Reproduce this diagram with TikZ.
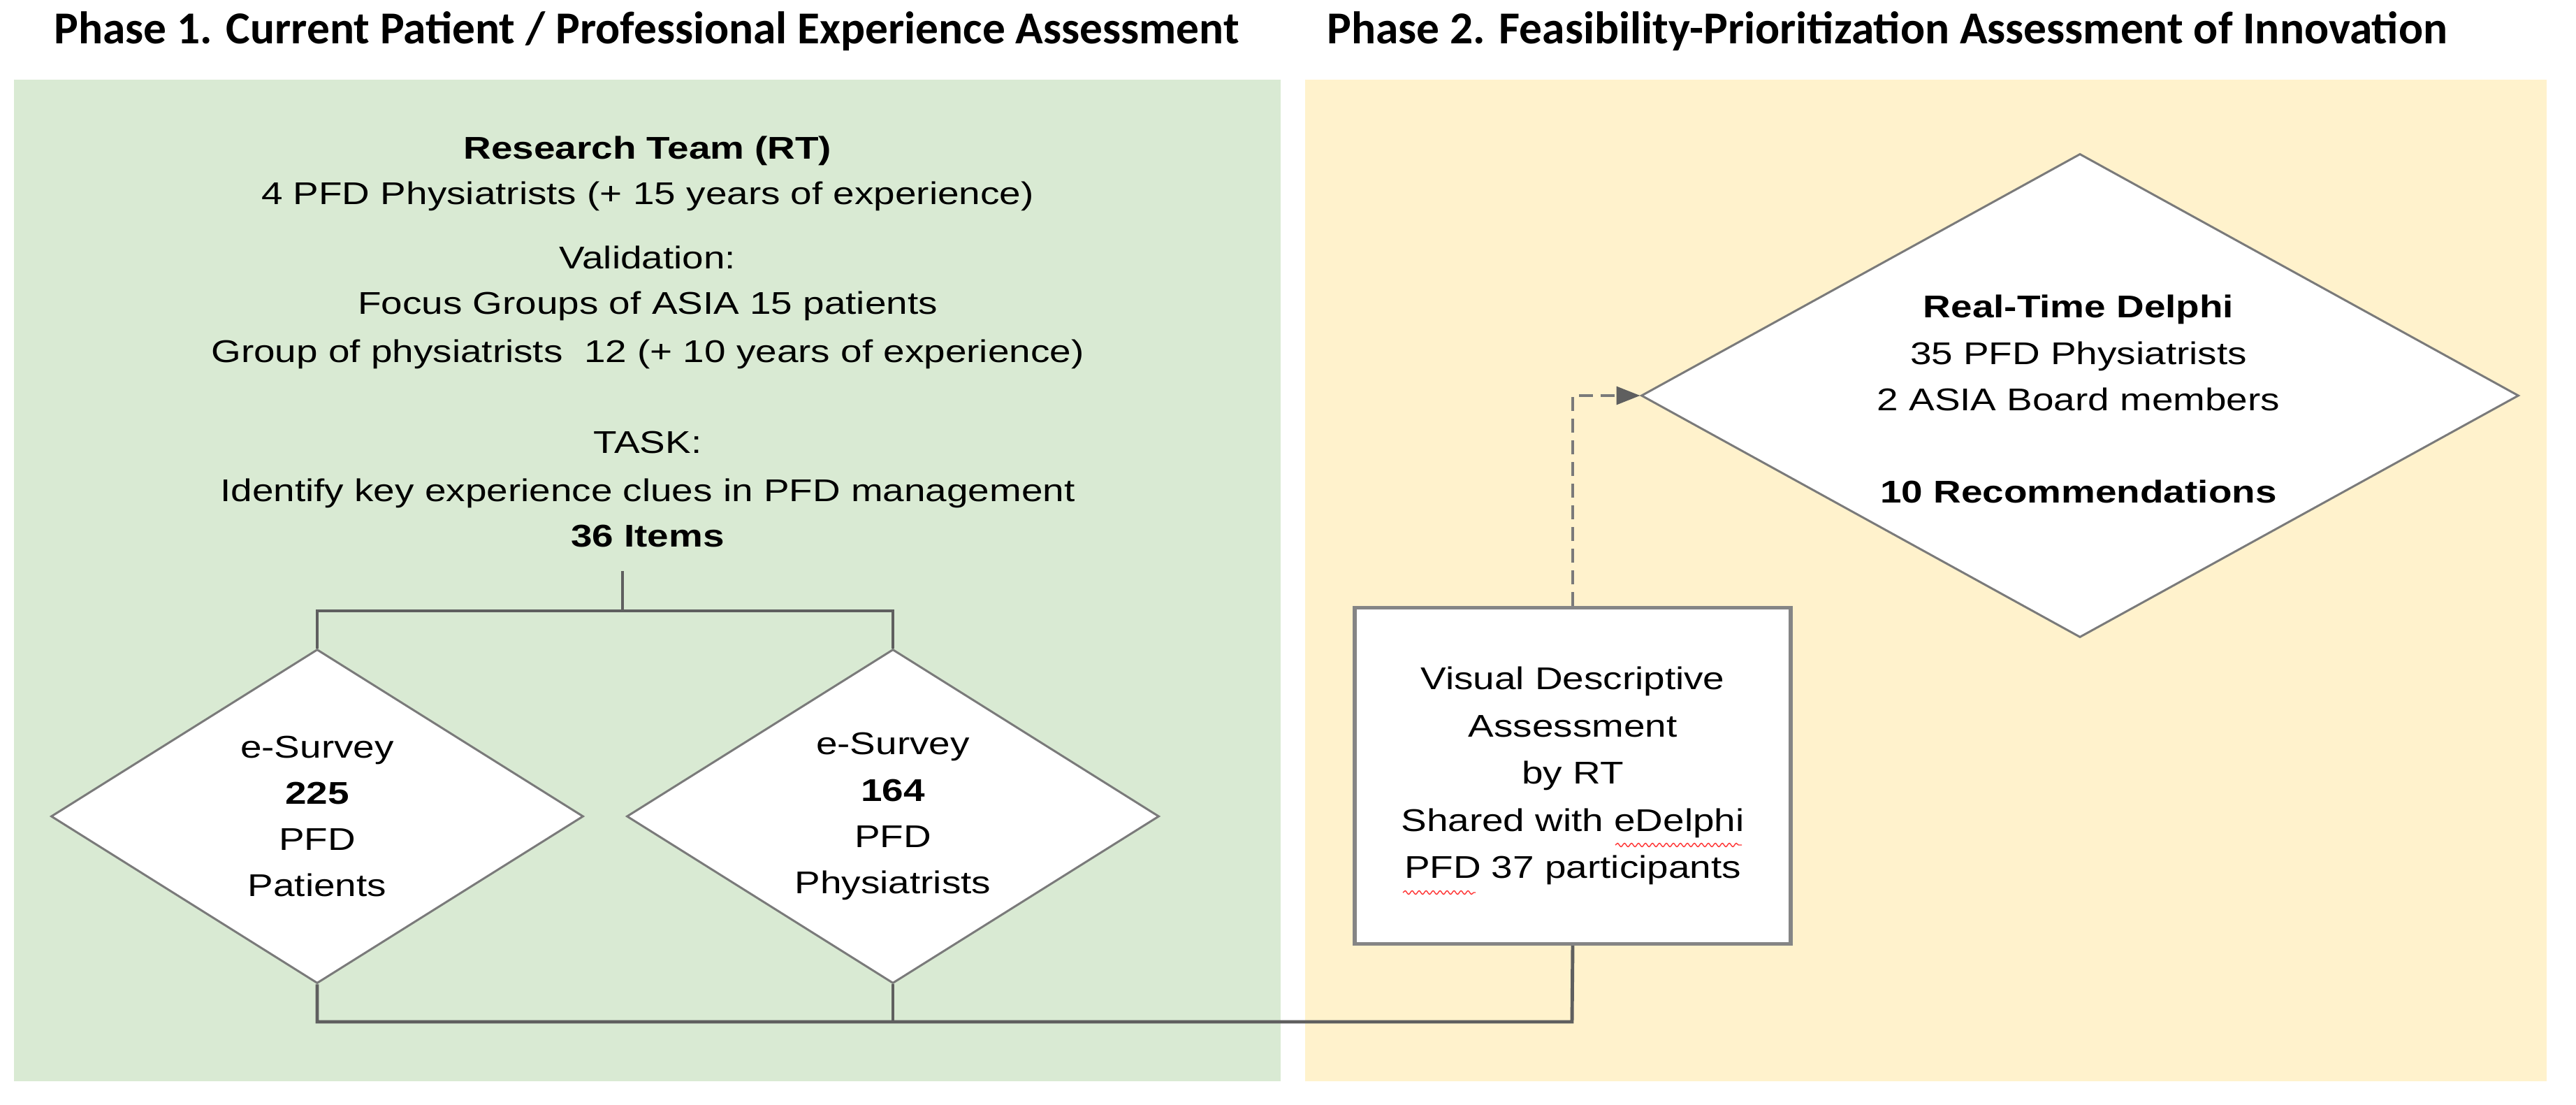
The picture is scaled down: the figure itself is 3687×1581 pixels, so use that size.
\documentclass[tikz,border=0pt]{standalone}
\usepackage{fontspec}
\setmainfont{Liberation Sans}[FakeStretch=1.22]
\newfontfamily\titlefont{Carlito}
\usetikzlibrary{shapes.geometric,arrows.meta,decorations.pathmorphing}
\definecolor{pgreen}{HTML}{D9EAD3}
\definecolor{pyellow}{HTML}{FFF2CC}
\definecolor{conngray}{HTML}{5F5F5F}
\definecolor{outgray}{HTML}{7A7A7A}
\definecolor{boxgray}{HTML}{858585}
\begin{document}
\begin{tikzpicture}[x=0.1mm,y=-0.1mm,
  conn/.style={draw=conngray,line width=1.4pt},
  dashconn/.style={draw=outgray,line width=0.9pt,dash pattern=on 2mm off 1.1mm},
  dia/.style={shape=diamond,draw=outgray,line width=0.85pt,fill=white,inner sep=0pt},
  stepbox/.style={draw=boxgray,line width=1.5pt,fill=white,inner sep=0pt,
    minimum width=62.4mm,minimum height=48.1mm,align=center,
    font=\fontsize{12.8}{19.2}\selectfont},
  txt/.style={font=\fontsize{12.8}{18.8}\selectfont,align=center,inner sep=0pt},
  line/.style={font=\fontsize{12.8}{16}\selectfont,inner sep=0pt,anchor=base},
  title/.style={font=\titlefont\bfseries\fontsize{18.6}{21}\selectfont,inner sep=0pt,anchor=base west}
]
\useasboundingbox (0,0) rectangle (3687,1581);
\fill[white] (0,0) rectangle (3687,1581);
% panels
\fill[pgreen] (20,114) rectangle (1833,1547);
\fill[pyellow] (1868,114) rectangle (3645,1547);
% titles
\node[title] (t1) at (77,63) {Phase 1. Current Patient / Professional Experience Assessment};
\node[title] (t2) at (1899,63) {Phase 2. Feasibility-Prioritization Assessment of Innovation};
% phase 1 text
\node[line] (l1) at (927,228) {\bfseries Research Team (RT)};
\node[line] (l2) at (927,293) {4 PFD Physiatrists (+ 15 years of experience)};
\node[line] (l3) at (927,385) {Validation:};
\node[line] (l4) at (927,450) {Focus Groups of ASIA 15 patients};
\node[line] (l5) at (927,519) {Group of physiatrists\ \ 12 (+ 10 years of experience)};
\node[line] (l6) at (927,649) {TASK:};
\node[line] (l7) at (927,718) {Identify key experience clues in PFD management};
\node[line] (l8) at (927,782) {\bfseries 36 Items};
% diamonds
\node[dia,minimum width=76.2mm,minimum height=47.8mm] (d1) at (454,1168) {};
\node[txt] (d1t) at (d1) {e-Survey\\\bfseries 225\\PFD\\Patients};
\node[dia,minimum width=76.2mm,minimum height=47.8mm] (d2) at (1278,1168) {};
\node[txt] (d2t) at (d2) {e-Survey\\\bfseries 164\\PFD\\Physiatrists};
\node[dia,minimum width=125.6mm,minimum height=69.2mm] (d3) at (2977,566) {};
\node[txt] (d3t) at (2975,571) {\bfseries Real-Time Delphi\\35 PFD Physiatrists\\2 ASIA Board members\\[18.8pt]\bfseries 10 Recommendations};
% box
\node[stepbox] (bx) at (2251,1110) {Visual Descriptive\\Assessment\\by RT\\Shared with eDelphi\\PFD 37 participants};
% spell-check squiggles
\draw[red!80!white,line width=0.4pt,decorate,decoration={snake,amplitude=0.25mm,segment length=1mm}] (2312,1209) -- (2493,1209);
\draw[red!80!white,line width=0.4pt,decorate,decoration={snake,amplitude=0.25mm,segment length=1mm}] (2008,1277) -- (2112,1277);
% connectors
\coordinate (s0) at (891,817);
\coordinate (s1) at (891,874);
\coordinate (b1) at (2250,1462);
\draw[conn] (s0) -- (s1);
\draw[conn] (d1.north) |- (s1) -| (d2.north);
\draw[conn] (d1.south) |- (b1) -- (bx.south);
\draw[conn] (d2.south) -- (d2.south |- b1);
\draw[dashconn,-{Triangle[length=3.4mm,width=2.6mm,color=conngray,fill=conngray]}] (bx.north) |- (d3.west);
\end{tikzpicture}
\end{document}
